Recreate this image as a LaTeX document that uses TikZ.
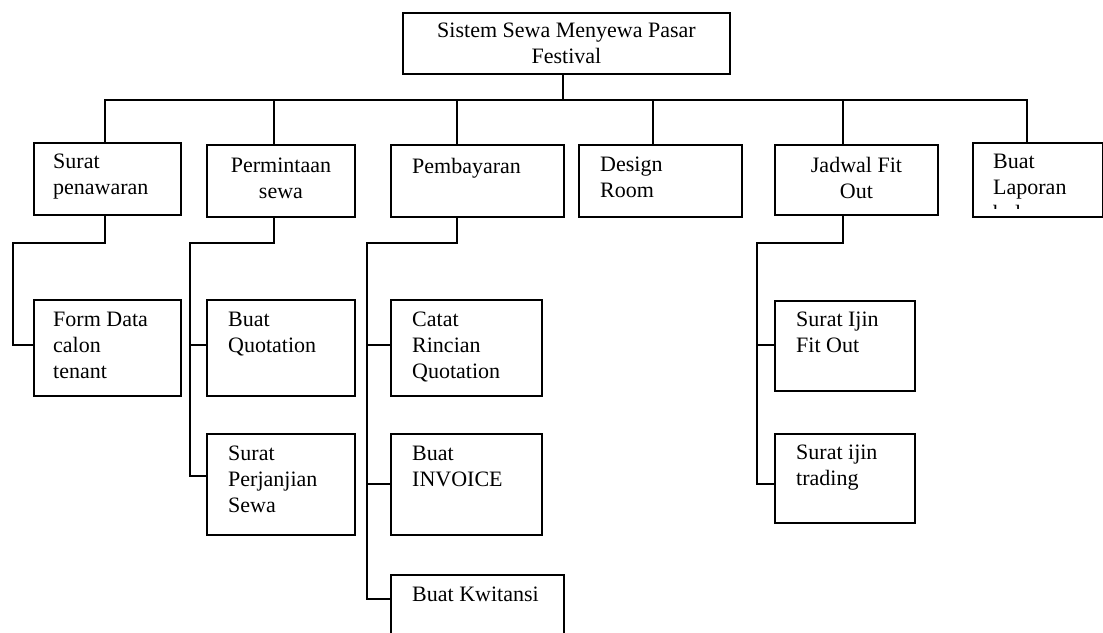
\documentclass[tikz,border=0pt]{standalone}
\usepackage{fontspec}
\setmainfont{Liberation Serif}
\usetikzlibrary{calc}
\newcommand\lftxt[1]{\begin{tabular}[t]{@{}l@{}}#1\end{tabular}}
\newcommand\cntxt[1]{\begin{tabular}[t]{@{}c@{}}#1\end{tabular}}
\begin{document}
\begin{tikzpicture}[x=1pt,y=-1pt,
  box/.style={draw, line width=1.9pt, inner sep=0pt, anchor=north west},
  txt/.style={inner sep=0pt, font=\fontsize{22}{26}\selectfont, anchor=base west},
  ctxt/.style={inner sep=0pt, font=\fontsize{22}{26}\selectfont, anchor=base},
  link/.style={line width=1.9pt, line join=miter}]
\useasboundingbox (0,0) rectangle (1103,632);
\clip (0,0) rectangle (1103,632);
\fill[white] (0,0) rectangle (1103,632);

% boxes
\node[box, minimum width=327pt, minimum height=61pt] (top) at (402,12) {};
\node[box, minimum width=147pt, minimum height=72pt] (b1) at (33,142) {};
\node[box, minimum width=148pt, minimum height=72pt] (b2) at (206,144) {};
\node[box, minimum width=173pt, minimum height=72pt] (b3) at (390,144) {};
\node[box, minimum width=163pt, minimum height=72pt] (b4) at (578,144) {};
\node[box, minimum width=163pt, minimum height=70pt] (b5) at (774,144) {};
\node[box, minimum width=129.5pt, minimum height=74pt] (b6) at (972,142) {};
\node[box, minimum width=147pt, minimum height=96pt] (c1) at (33,299) {};
\node[box, minimum width=148pt, minimum height=96pt] (c2) at (206,299) {};
\node[box, minimum width=148pt, minimum height=101pt] (c3) at (206,433) {};
\node[box, minimum width=151pt, minimum height=96pt] (c4) at (390,299) {};
\node[box, minimum width=151pt, minimum height=101pt] (c5) at (390,433) {};
\node[box, minimum width=173pt, minimum height=90pt] (c6) at (390,574) {};
\node[box, minimum width=140pt, minimum height=90pt] (c7) at (774,300) {};
\node[box, minimum width=140pt, minimum height=89pt] (c8) at (774,433) {};

% texts
\node[ctxt] (ttop) at ($(top.north)+(0,25)$) {\cntxt{Sistem Sewa Menyewa Pasar\\Festival}};
\node[txt] (tb1) at ($(b1.north west)+(20,26)$) {\lftxt{Surat\\penawaran}};
\node[ctxt] (tb2) at ($(b2.north)+(0,28)$) {\cntxt{Permintaan\\sewa}};
\node[txt] (tb3) at ($(b3.north west)+(22,29)$) {Pembayaran};
\node[txt] (tb4) at ($(b4.north west)+(22,27)$) {\lftxt{Design\\Room}};
\node[ctxt] (tb5) at ($(b5.north)+(0,28)$) {\cntxt{Jadwal Fit\\Out}};
\node[txt] (tb6) at ($(b6.north west)+(21,26)$) {\lftxt{Buat\\Laporan}};
\begin{scope}
  \clip (972,142) rectangle (1103,208);
  \node[txt] (tb6b) at ($(b6.north west)+(21,78)$) {bulanan};
\end{scope}
\node[txt] (tc1) at ($(c1.north west)+(20,27)$) {\lftxt{Form Data\\calon\\tenant}};
\node[txt] (tc2) at ($(c2.north west)+(22,27)$) {\lftxt{Buat\\Quotation}};
\node[txt] (tc3) at ($(c3.north west)+(22,27)$) {\lftxt{Surat\\Perjanjian\\Sewa}};
\node[txt] (tc4) at ($(c4.north west)+(22,27)$) {\lftxt{Catat\\Rincian\\Quotation}};
\node[txt] (tc5) at ($(c5.north west)+(22,27)$) {\lftxt{Buat\\INVOICE}};
\node[txt] (tc6) at ($(c6.north west)+(22,27)$) {Buat Kwitansi};
\node[txt] (tc7) at ($(c7.north west)+(22,26)$) {\lftxt{Surat Ijin\\Fit Out}};
\node[txt] (tc8) at ($(c8.north west)+(22,26)$) {\lftxt{Surat ijin\\trading}};

% connector points
\coordinate (s0) at (563,100);
\coordinate (t1) at (105,100);
\coordinate (t2) at (274,100);
\coordinate (t3) at (457,100);
\coordinate (t4) at (653,100);
\coordinate (t5) at (843,100);
\coordinate (t6) at (1027,100);
\coordinate (e1) at (13,243);
\coordinate (e2) at (190,243);
\coordinate (e3) at (367,243);
\coordinate (e5) at (757,243);
\coordinate (k1) at (33,345);
\coordinate (k2) at (206,345);
\coordinate (k3) at (206,476);
\coordinate (k4) at (390,345);
\coordinate (k5) at (390,484);
\coordinate (k6) at (390,599);
\coordinate (k7) at (774,345);
\coordinate (k8) at (774,484);

% bus and stems
\draw[link] (top.south -| s0) -- (s0);
\draw[link] (t1 |- b1.north) -- (t1) -- (t6) -- (t6 |- b6.north);
\draw[link] (t2) -- (t2 |- b2.north);
\draw[link] (t3) -- (t3 |- b3.north);
\draw[link] (t4) -- (t4 |- b4.north);
\draw[link] (t5) -- (t5 |- b5.north);

% sub-trees
\draw[link] (b1.south -| t1) -- (t1 |- e1) -- (e1) -- (e1 |- k1) -- (k1);
\draw[link] (b2.south -| t2) -- (t2 |- e2) -- (e2) -- (e2 |- k3) -- (k3);
\draw[link] (e2 |- k2) -- (k2);
\draw[link] (b3.south -| t3) -- (t3 |- e3) -- (e3) -- (e3 |- k6) -- (k6);
\draw[link] (e3 |- k4) -- (k4);
\draw[link] (e3 |- k5) -- (k5);
\draw[link] (b5.south -| t5) -- (t5 |- e5) -- (e5) -- (e5 |- k8) -- (k8);
\draw[link] (e5 |- k7) -- (k7);
\end{tikzpicture}
\end{document}
